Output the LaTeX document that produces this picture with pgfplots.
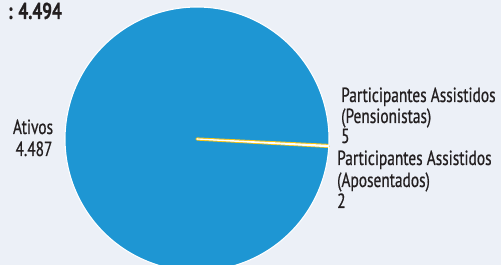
\documentclass[border=0pt]{standalone}
\usepackage{pgfplots}
\pgfplotsset{compat=1.18}
\usepackage{pgfplotstable}
\usepackage{fontspec}
\setmainfont{PT Sans}[FakeStretch=0.75, FakeBold=0.6]
\definecolor{bgcol}{RGB}{236,240,247}
\definecolor{pieblue}{RGB}{30,150,211}
\definecolor{pieyellow}{RGB}{246,196,22}
\definecolor{piegreen}{RGB}{120,178,70}
\definecolor{txt}{RGB}{35,31,32}

\pgfplotstableread{
label value
Ativos 4487
Pensionistas 5
Aposentados 2
}\piedata

\begin{document}
\begin{tikzpicture}
\pgfplotstablegetelem{0}{value}\of\piedata \edef\va{\pgfplotsretval}
\pgfplotstablegetelem{1}{value}\of\piedata \edef\vb{\pgfplotsretval}
\pgfplotstablegetelem{2}{value}\of\piedata \edef\vc{\pgfplotsretval}
\pgfmathsetmacro\tot{\va+\vb+\vc}
\pgfmathsetmacro\fa{\va/\tot}
\pgfmathsetmacro\fb{\vb/\tot}
\pgfmathsetmacro\fc{\vc/\tot}
\pgfmathsetmacro\sa{-2.8}
\pgfmathsetmacro\ea{\sa+360*\fa}
\pgfmathsetmacro\eg{\ea+360*\fc}
\pgfmathsetmacro\egb{\eg+0.01}
\pgfmathsetmacro\ey{\eg+360*\fb}
\useasboundingbox (0,0) rectangle (501pt,265pt);
\begin{axis}[at={(0,0)}, anchor=south west, x=1pt, y=1pt,
  xmin=-197, xmax=304, ymin=-126, ymax=139, hide axis, clip=false]
\fill[bgcol] (axis cs:-197,-126) rectangle (axis cs:304,139);
\addplot[fill=pieblue, draw=none,
  domain=\sa:\ea, samples=361, variable=\t]
  ({132*cos(t)},{132*sin(t)}) -- (axis cs:0,0) -- cycle;
\addplot[fill=piegreen, draw=piegreen, line width=2pt, line join=round,
  domain=\ea:\eg, samples=5, variable=\t]
  ({131.5*cos(t)},{131.5*sin(t)}) -- (axis cs:0,0) -- cycle;
\addplot[fill=pieyellow, draw=pieyellow, line width=3.2pt, line join=round,
  domain=\eg:\ey, samples=5, variable=\t]
  ({131*cos(t)},{131*sin(t)}) -- (axis cs:0,0) -- cycle;
\addplot[fill=none, draw=white, line width=1.1pt, line join=round,
  domain=\sa:\ea, samples=361, variable=\t]
  ({132*cos(t)},{132*sin(t)}) -- (axis cs:0,0) -- cycle;
\addplot[fill=none, draw=white, line width=0.6pt, line join=round,
  domain=\eg:\egb, samples=2, variable=\t]
  ({132*cos(t)},{132*sin(t)}) -- (axis cs:0,0);
\begin{scope}[every node/.style={inner sep=0pt, text=txt, font=\fontsize{20.5}{22}\selectfont}]
\node[anchor=base east, font=\bfseries\fontsize{23}{25}\selectfont] at (axis cs:-135,120) {: 4.494};
\node[anchor=base] at (axis cs:-164,5) {Ativos};
\node[anchor=base] at (axis cs:-163,-17) {4.487};
\node[anchor=base west] at (axis cs:144,37) {Participantes Assistidos};
\node[anchor=base west] at (axis cs:144,16) {(Pensionistas)};
\node[anchor=base west] at (axis cs:144,-4) {5};
\node[anchor=base west] at (axis cs:140,-26) {Participantes Assistidos};
\node[anchor=base west] at (axis cs:140,-48) {(Aposentados)};
\node[anchor=base west] at (axis cs:140,-69) {2};
\end{scope}
\end{axis}
\end{tikzpicture}
\end{document}
